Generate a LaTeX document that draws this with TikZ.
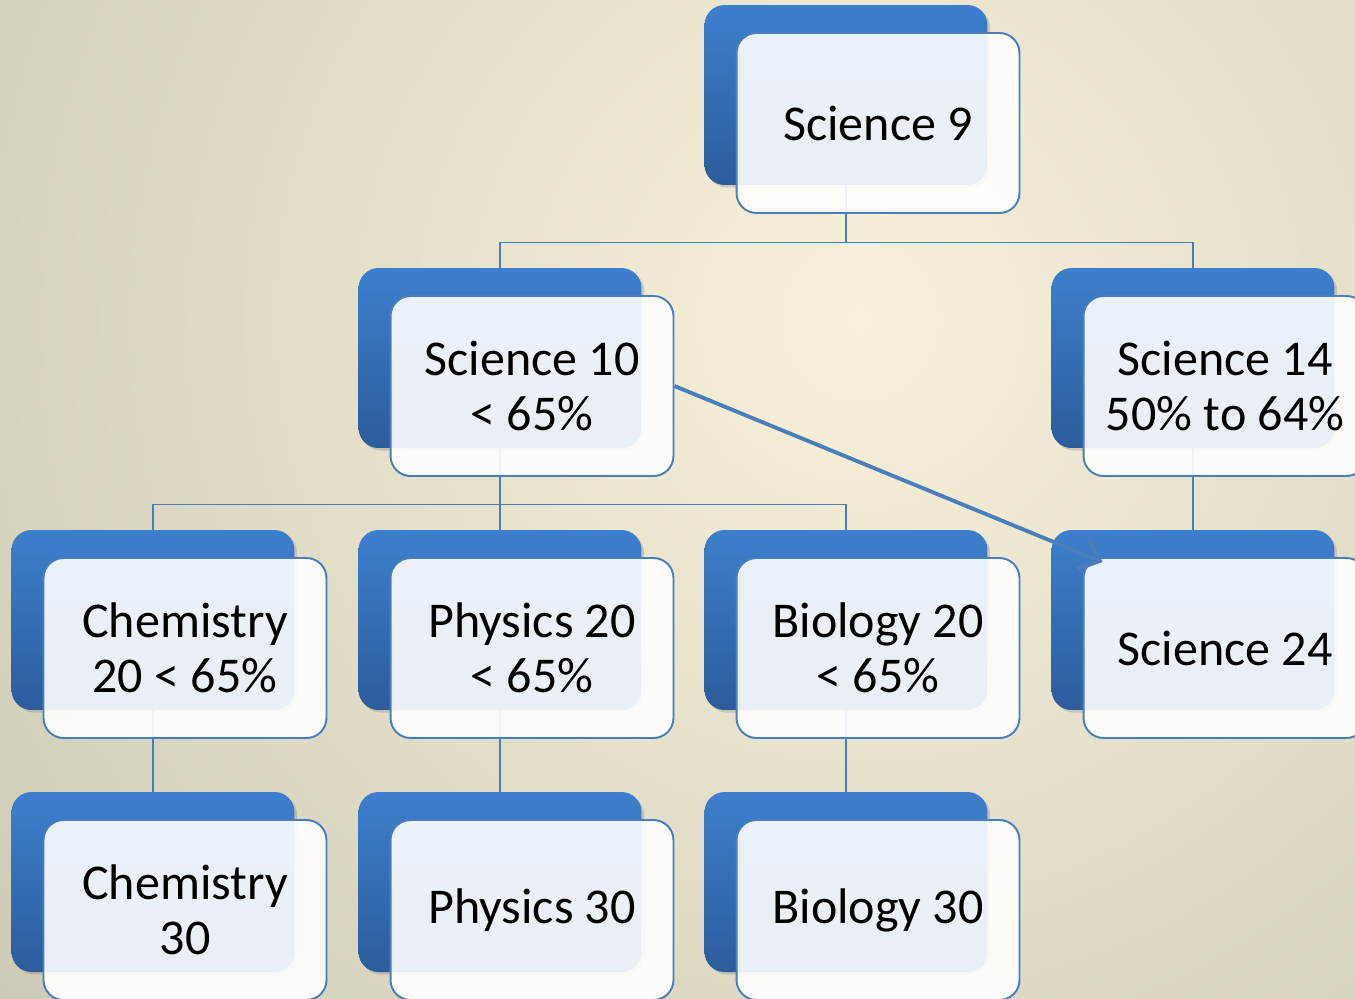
\documentclass[tikz,border=0pt]{standalone}
\usepackage{fontspec}
\setmainfont{Carlito}
\usepackage{tikz}
\usepackage{xcolor}
\usetikzlibrary{arrows.meta,calc,shadows}

\definecolor{bgin}{HTML}{F8F1DA}
\definecolor{bgout}{HTML}{B3B4A2}
\definecolor{boxtop}{HTML}{3D7FCD}
\definecolor{boxbot}{HTML}{2C5C9B}
\definecolor{edgeblue}{HTML}{4A7EBB}

\begin{document}
\begin{tikzpicture}[x=0.02cm, y=-0.02cm,
        back/.style={rectangle, rounded corners=0.4cm, minimum width=5.66cm, minimum height=3.6cm,
            top color=boxtop, bottom color=boxbot, draw=none,
            drop shadow={opacity=0.3, shadow xshift=1.5pt, shadow yshift=-1.5pt}},
        front/.style={rectangle, rounded corners=0.4cm, minimum width=5.66cm, minimum height=3.6cm,
            draw=edgeblue, line width=1.1pt, fill=white, fill opacity=0.9, text opacity=1,
            align=center, font=\fontsize{28.5}{31.5}\selectfont},
        link/.style={draw=edgeblue, line width=0.9pt}]
        \useasboundingbox (0,0) rectangle (1355,998);
        \clip (0,0) rectangle (1355,998);
        \fill[bgout] (0,0) rectangle (1355,998);
        \shade[inner color=bgin, outer color=bgout] (860,320) circle (1750);

        % blue cards
        \node (s9)  at (846, 95)  [back] {};
        \node (s10) at (500, 358) [back] {};
        \node (s14) at (1193, 358) [back] {};
        \node (c20) at (153, 620) [back] {};
        \node (p20) at (500, 620) [back] {};
        \node (b20) at (846, 620) [back] {};
        \node (s24) at (1193, 620) [back] {};
        \node (c30) at (153, 882) [back] {};
        \node (p30) at (500, 882) [back] {};
        \node (b30) at (846, 882) [back] {};

        \draw[link] (s9.south) -- ++(0,57) -| (s10.north);
        \draw[link] (s9.south) -- ++(0,57) -| (s14.north);
        \draw[link] (s10.south) -- ++(0,56) -| (c20.north);
        \draw[link] (s10.south) -- (p20.north);
        \draw[link] (s10.south) -- ++(0,56) -| (b20.north);
        \draw[link] (s14.south) -- (s24.north);
        \draw[link] (c20.south) -- (c30.north);
        \draw[link] (p20.south) -- (p30.north);
        \draw[link] (b20.south) -- (b30.north);

        % white cards with the text
        \node (s9t)  at ($(s9)+(32,28)$)  [front] {Science 9};
        \node (s10t) at ($(s10)+(32,28)$) [front] {Science 10\\< 65\%};
        \node (s14t) at ($(s14)+(32,28)$) [front] {Science 14\\50\% to 64\%};
        \node (c20t) at ($(c20)+(32,28)$) [front] {Chemistry\\20 < 65\%};
        \node (p20t) at ($(p20)+(32,28)$) [front] {Physics 20\\< 65\%};
        \node (b20t) at ($(b20)+(32,28)$) [front] {Biology 20\\< 65\%};
        \node (s24t) at ($(s24)+(32,28)$) [front] {Science 24};
        \node (c30t) at ($(c30)+(32,28)$) [front] {Chemistry\\30};
        \node (p30t) at ($(p30)+(32,28)$) [front] {Physics 30};
        \node (b30t) at ($(b30)+(32,28)$) [front] {Biology 30};

        \draw[link, line width=2.2pt, -{Straight Barb[length=10pt, width=18pt, line width=2.4pt]}]
            (s10t.east) -- ($(s24t.north west)+(20,5)$);
    \end{tikzpicture}
\end{document}
